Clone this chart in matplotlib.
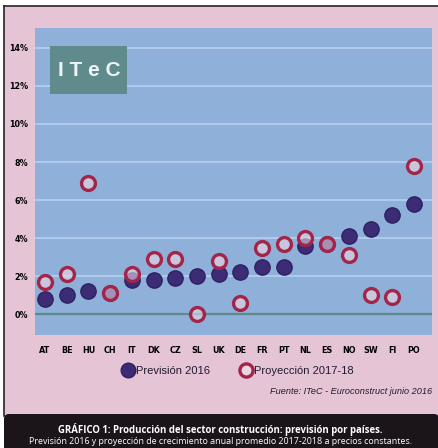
import matplotlib.pyplot as plt
from matplotlib.patches import Rectangle, FancyBboxPatch

# Crecimiento anual de la producción del sector construcción (%)
paises = ['AT', 'BE', 'HU', 'CH', 'IT', 'DK', 'CZ', 'SL', 'UK',
          'DE', 'FR', 'PT', 'NL', 'ES', 'NO', 'SW', 'FI', 'PO']
prevision_2016 = [0.8, 1.0, 1.2, 1.1, 1.8, 1.8, 1.9, 2.0, 2.1,
                  2.2, 2.5, 2.5, 3.6, 3.7, 4.1, 4.5, 5.2, 5.8]
proyeccion_2017_18 = [1.7, 2.1, 6.9, 1.1, 2.1, 2.9, 2.9, 0.0, 2.8,
                      0.6, 3.5, 3.7, 4.0, 3.7, 3.1, 1.0, 0.9, 7.8]
yticks = [0, 2, 4, 6, 8, 10, 12, 14]

W, H = 439, 448
rosa = '#e5c4d6'
azul = '#8fb0d9'
morado = '#3c2c76'
rojo = '#a3264a'
tinta = '#221a30'

fig = plt.figure(figsize=(W / 100, H / 100), dpi=100)
fig.patch.set_facecolor('white')

# capa de fondo en coordenadas de pixel
fondo = fig.add_axes([0, 0, 1, 1])
fondo.set_xlim(0, W)
fondo.set_ylim(H, 0)
fondo.axis('off')
fondo.add_patch(Rectangle((4, 6), W - 4, 410, facecolor=rosa, edgecolor='none'))
fondo.plot([4, W], [6, 6], color='#2a2226', lw=1.2)
fondo.plot([4, 4], [6, 416], color='#2a2226', lw=1.2)
fondo.add_patch(FancyBboxPatch((4, 414), W - 4, 40, boxstyle='round,pad=0,rounding_size=5',
                               facecolor='#1b1418', edgecolor='none'))
fondo.text(220, 430, 'GRÁFICO 1: Producción del sector construcción: previsión por países.',
           color='white', fontsize=6.9, fontweight='bold', ha='center', va='center',
           family='Open Sans')
fondo.text(221, 442, 'Previsión 2016 y proyección de crecimiento anual promedio 2017-2018 a precios constantes.',
           color='white', fontsize=6.4, ha='center', va='center', family='Open Sans')

# leyenda y fuente
fondo.plot(128, 370, 'o', ms=10.5, color=morado, mec='#2c1f5c', mew=1)
fondo.text(136, 371, 'Previsión 2016', fontsize=8, va='center', ha='left',
           family='Liberation Sans', color=tinta)
fondo.plot(246, 370, 'o', ms=9.5, mfc='#ead6e0', mec=rojo, mew=2.4)
fondo.text(254, 371, 'Proyección 2017-18', fontsize=8, va='center', ha='left',
           family='Liberation Sans', color=tinta)
fondo.text(432, 392, 'Fuente: ITeC - Euroconstruct junio 2016', fontsize=6.6,
           style='italic', va='center', ha='right', family='Liberation Sans', color=tinta)

ax = fig.add_axes([35 / W, 1 - 335 / H, 397 / W, 307 / H])
ax.set_facecolor(azul)
ax.set_xlim(-0.46, 17.83)
ax.set_ylim(-1.1, 15.05)
for s in ax.spines.values():
    s.set_visible(False)

for y in yticks:
    if y == 0:
        ax.axhline(y, color='#5d8a88', lw=1.6, zorder=1)
    else:
        ax.axhline(y, color='#b4cdf0', lw=1.3, zorder=1)

x = range(len(paises))
ax.plot(x, prevision_2016, 'o', ls='none', ms=11, color=morado, mec='#2e2063', mew=1, zorder=3)
ax.plot(x, proyeccion_2017_18, 'o', ls='none', ms=10, mfc=(0.93, 0.84, 0.88, 0.6),
        mec=rojo, mew=2.4, zorder=4)

ax.set_yticks(yticks)
ax.set_yticklabels([f'{v}%' for v in yticks], fontsize=5.8, fontweight='bold')
ax.set_xticks(list(x))
ax.set_xticklabels(paises, fontsize=5.8, fontweight='bold')
ax.tick_params(axis='y', length=0, pad=5)
ax.tick_params(axis='x', length=0, pad=8)

# logotipo sobre el área del gráfico
capa = fig.add_axes([0, 0, 1, 1])
capa.set_xlim(0, W)
capa.set_ylim(H, 0)
capa.axis('off')
capa.add_patch(Rectangle((50, 46), 77, 48, facecolor='#5f8b8c', edgecolor='none'))
capa.text(89, 71, 'I T e C', fontsize=15, fontweight='bold', color='#eef3f3',
          ha='center', va='center', family='Liberation Sans')

fig.savefig('out.png', dpi=100)
